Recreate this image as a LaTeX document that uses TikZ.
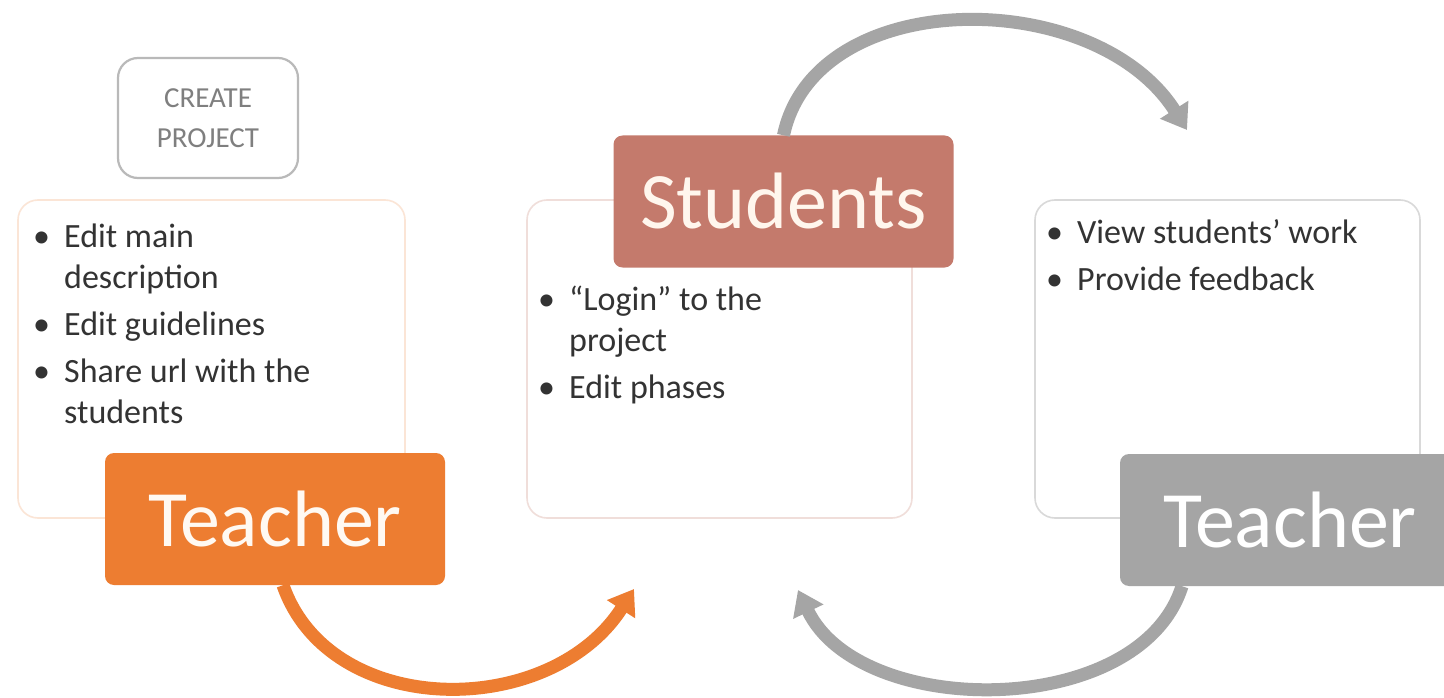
\documentclass[tikz,border=0pt]{standalone}
\usepackage{fontspec}
\setmainfont{Carlito}
\usetikzlibrary{arrows.meta}
\definecolor{orng}{HTML}{ED7D31}
\definecolor{gry}{HTML}{A5A5A5}
\definecolor{terra}{RGB}{196,122,108}
\definecolor{txt}{HTML}{333333}
\definecolor{cpgray}{HTML}{7F7F7F}
\newcommand\bul{\makebox[31pt][l]{\textbullet}}
\newcommand\ind{\hspace*{31pt}}
\begin{document}
\begin{tikzpicture}[x=1pt,y=-1pt,
  cbox/.style={draw, line width=1.6pt, rounded corners=20pt, fill=white, inner sep=0pt},
  label/.style={rounded corners=9pt, inner sep=0pt, minimum width=340pt, minimum height=132pt,
     font=\fontsize{80}{90}\selectfont},
  btxt/.style={anchor=north west, inner sep=0pt, align=left, text=txt,
     font=\fontsize{34}{41}\selectfont},
  arr/.style={line width=13pt}]
\useasboundingbox[fill=white] (0,0) rectangle (1444,698);
% create project
\node[draw=gray!55, line width=2.2pt, rounded corners=20pt, minimum width=180pt, minimum height=120pt,
  align=center, text=cpgray, font=\fontsize{29}{40}\selectfont] (cp) at (208,118) {CREATE\\PROJECT};
% content boxes
\node[cbox, draw=orng!20, minimum width=387pt, minimum height=318pt] (lb) at (211.5,359) {};
\node[cbox, draw=terra!25, minimum width=385pt, minimum height=318pt] (mb) at (719.5,359) {};
\node[cbox, draw=gray!30, minimum width=385pt, minimum height=318pt] (rb) at (1227.5,359) {};
% bullet texts
\node[btxt] (lt) at (33,219) {\strut\bul Edit main\\ \ind description\\[6pt]
  \bul Edit guidelines\\[6pt] \bul Share url with the\\ \ind students};
\node[btxt] (mt) at (538,282) {\strut\bul “Login” to the\\ \ind project\\[6pt] \bul Edit phases};
\node[btxt] (rt) at (1046,215) {\strut\bul View students’ work\\[6pt] \bul Provide feedback};
% labels
\node[label, fill=orng, text=white!95!orange] (t1) at (275,519) {Teacher};
\node[label, fill=terra, text=white!93!orange] (s) at (783.5,201.5) {Students};
\node[label, fill=gry, text=white] (t2) at (1290,520) {Teacher};
% arrow ends
\coordinate (e1) at (634,589);
\coordinate (e2) at (1187,130);
\coordinate (e3) at (798,590);
% arrows
\draw[arr, draw=orng, -{Triangle[width=32pt,length=24pt,color=orng]}]
  ([xshift=8pt]t1.south) .. controls (330,720) and (550,720) .. (e1);
\draw[arr, draw=gry, -{Triangle[width=32pt,length=24pt,color=gry]}]
  (s.north) .. controls (815,-15) and (1095,-15) .. (e2);
\draw[arr, draw=gry, -{Triangle[width=32pt,length=24pt,color=gry]}]
  ([xshift=-108pt]t2.south) .. controls (1140,720) and (860,720) .. (e3);
\end{tikzpicture}
\end{document}
